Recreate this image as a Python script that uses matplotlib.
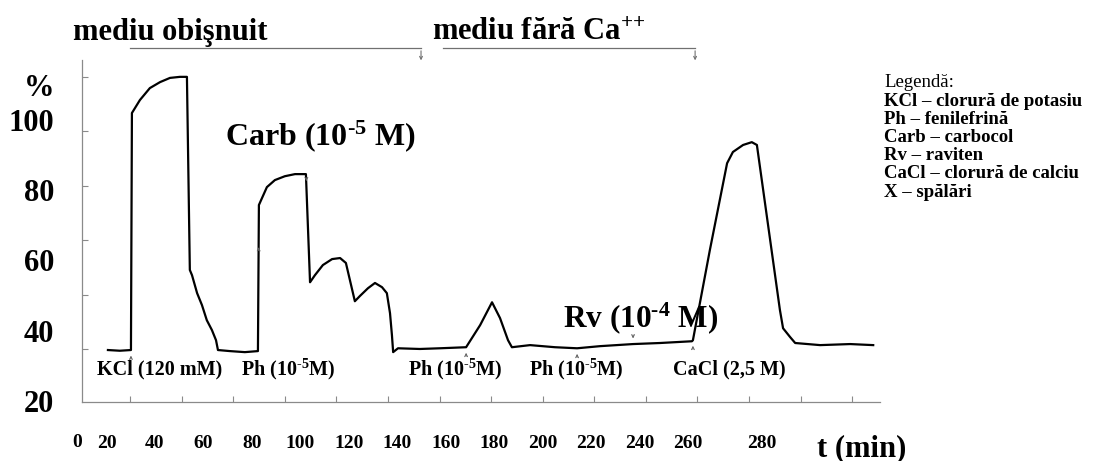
import matplotlib
matplotlib.use("Agg")
import matplotlib.pyplot as plt
import matplotlib.transforms as mtransforms
import numpy as np

# ---------------- data ----------------
time_min = [20.6, 25.5, 30.1, 30.5, 33.8, 37.9, 42.1, 46.2, 50.3, 53.2, 54.4, 55.3, 57.4,
            59.4, 61.4, 63.5, 65.2, 66.0, 70.9, 77.1, 82.5, 82.9, 86.2, 89.5, 93.6, 97.8,
            102.3, 104.0, 106.0, 109.3, 113.1, 116.4, 118.8, 122.5, 124.6, 127.9, 130.8,
            133.7, 135.7, 137.0, 137.8, 138.3, 140.3, 149.3, 157.6, 168.4, 174.2, 179.1,
            182.4, 185.7, 187.3, 194.8, 205.1, 214.2, 223.6, 237.3, 248.4, 261.6, 262.0,
            269.0, 276.1, 278.5, 282.7, 286.3, 288.4, 297.9, 299.2, 302.1, 304.2, 314.5,
            326.9, 336.4]
tension_pct = [34.5, 34.3, 34.5, 102.0, 105.7, 109.1, 110.8, 112.0, 112.3, 112.3, 57.3, 55.8,
               50.7, 47.3, 43.0, 40.2, 37.3, 34.5, 34.2, 33.9, 34.2, 75.8, 80.9, 82.9, 84.0,
               84.6, 84.6, 53.8, 55.8, 58.7, 60.4, 60.7, 59.3, 48.4, 49.9, 52.1, 53.6, 52.4,
               50.7, 45.0, 38.7, 33.9, 35.0, 34.8, 35.0, 35.3, 41.6, 48.1, 43.6, 37.3, 35.3,
               35.9, 35.3, 35.0, 35.6, 36.2, 36.5, 37.0, 37.3, 63.0, 87.7, 90.9, 92.9, 93.7,
               92.9, 45.9, 40.7, 38.2, 36.5, 35.9, 36.2, 35.9]

x_tick_values = [0, 20, 40, 60, 80, 100, 120, 140, 160, 180, 200, 220, 240, 260, 280]
y_tick_values = [20, 40, 60, 80, 100]

up_arrow_times = [30.1, 82.8, 168.4, 214.2, 262.0]
down_arrow_times = [102.5, 237.3]

HY = "\u2010"  # short hyphen used as the exponent sign
bottom_labels = ["KCl (120 mM)", f"Ph (10$^{{{HY}5}}$M)", f"Ph (10$^{{{HY}5}}$M)",
                 f"Ph (10$^{{{HY}5}}$M)", "CaCl (2,5 M)"]
bottom_label_t = [16.1, 75.5, 144.4, 194.3, 253.8]

period_labels = ["mediu obişnuit", "mediu fără Ca$^{{+}{+}}$"]
period_start = [29.7, 158.9]
period_end = [149.8, 262.9]
period_label_t = [6.1, 154.3]

legend_lines = ["Legendă:", "KCl – clorură de potasiu", "Ph – fenilefrină",
                "Carb – carbocol", "Rv – raviten", "CaCl – clorură de calciu",
                "X – spălări"]

# ---------------- style ----------------
plt.rcParams['font.family'] = ['Liberation Serif', 'DejaVu Serif']
plt.rcParams['font.weight'] = 'bold'
plt.rcParams['mathtext.fontset'] = 'custom'
plt.rcParams['mathtext.rm'] = 'Liberation Serif:bold'
plt.rcParams['mathtext.it'] = 'Liberation Serif:bold'
plt.rcParams['mathtext.bf'] = 'Liberation Serif:bold'
plt.rcParams['mathtext.default'] = 'rm'

W, H = 1115, 461
fig = plt.figure(figsize=(W / 100, H / 100), dpi=100)
ax = fig.add_axes([82 / W, 1 - 402 / H, (880 - 82) / W, (402 - 60) / H])

ax.plot(time_min, tension_pct, color='black', lw=1.6, solid_joinstyle='round')

for s in ['top', 'right']:
    ax.spines[s].set_visible(False)
for s in ['left', 'bottom']:
    ax.spines[s].set_color('#8a8a8a')
    ax.spines[s].set_linewidth(0.9)

ax.set_xticks(x_tick_values, [str(v) for v in x_tick_values])
ax.set_yticks(y_tick_values, [str(v) for v in y_tick_values])
ax.tick_params(axis='x', length=0, pad=24, labelsize=14)
ax.tick_params(axis='y', length=0, pad=20, labelsize=22)
for lbl in ax.get_xticklabels() + ax.get_yticklabels():
    lbl.set_fontweight('bold')

# minor inward ticks (as in the scanned recording)
ax.set_xticks(np.arange(29.7, 335, 21.29), minor=True)
ax.set_yticks(np.arange(34.8, 117, 15.5), minor=True)
ax.tick_params(which='minor', direction='in', length=4, width=0.8, color='#8a8a8a')

ax.set_xlim(9.9, 339.2)
ax.set_ylim(19.7, 117.1)

# the "0" label lies left of the plotted range: draw it like a tick label
ax.text(x_tick_values[0], 0, str(x_tick_values[0]),
        transform=ax.get_xaxis_transform() + mtransforms.ScaledTranslation(0.19, -0.40, fig.dpi_scale_trans),
        ha='center', va='center', fontsize=14, fontweight='bold', clip_on=False)

# shift the irregularly placed label 280
for lbl in ax.get_xticklabels():
    if lbl.get_text() == '280':
        lbl.set_transform(lbl.get_transform() + mtransforms.ScaledTranslation(0.25, 0, fig.dpi_scale_trans))

# % sign
ax.text(-0.034, 0.918, "%", transform=ax.transAxes, ha='right', va='center',
        fontsize=22, fontweight='bold')

# t (min)
fig.text(817 / W, 1 - 456 / H, "t (min)", ha='left', va='baseline', fontsize=22, fontweight='bold')

# event arrows
arrow_kw = dict(arrowstyle='->', color='#606060', lw=0.7, mutation_scale=5)
for t in up_arrow_times:
    yv = np.interp(t, time_min, tension_pct)
    ax.annotate('', xy=(t, yv - 0.8), xytext=(t, yv - 3.4), arrowprops=arrow_kw)
for t in down_arrow_times:
    yv = np.interp(t, time_min, tension_pct)
    ax.annotate('', xy=(t, yv + 0.8), xytext=(t, yv + 3.4), arrowprops=arrow_kw)

# bottom labels
for lab, t in zip(bottom_labels, bottom_label_t):
    ax.text(t, 27.4, lab, ha='left', va='baseline', fontsize=14.5, fontweight='bold')

# big annotations
ax.text(69.0, 92.9, f"Carb (10$^{{{HY}5}}$ M)", ha='left', va='baseline', fontsize=23, fontweight='bold')
ax.text(208.4, 41.0, f"Rv (10$^{{{HY}4}}$ M)", ha='left', va='baseline', fontsize=22.5, fontweight='bold')

# period brackets and labels
for lab, t0, t1, tl in zip(period_labels, period_start, period_end, period_label_t):
    ax.plot([t0, t1], [120.5, 120.5], color='#707070', lw=0.9, clip_on=False)
    ax.annotate('', xy=(t1, 116.2), xytext=(t1, 120.5),
                arrowprops=dict(arrowstyle='->', color='#707070', lw=0.8, mutation_scale=5),
                annotation_clip=False)
    ax.text(tl, 122.8, lab, ha='left', va='baseline', fontsize=22, fontweight='bold')

# legend block
legend_baselines = [87, 106, 124, 142, 160, 178, 197]
for i, (line, py) in enumerate(zip(legend_lines, legend_baselines)):
    fig.text(884 / W, 1 - py / H, line, ha='left', va='baseline', fontsize=13.5,
             fontweight='normal' if i == 0 else 'bold')

fig.savefig("out.png", dpi=100)
